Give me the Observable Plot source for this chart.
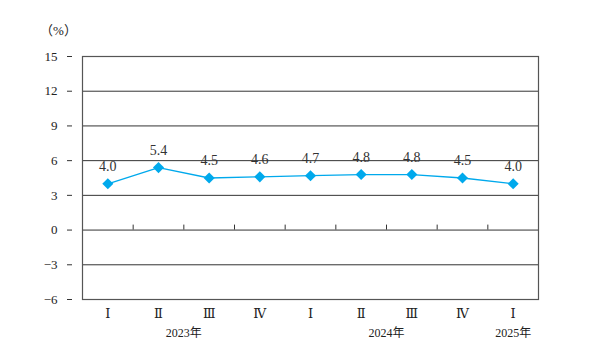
<!DOCTYPE html>
<html><head><meta charset="utf-8">
<script src="https://cdn.jsdelivr.net/npm/d3@7"></script>
<script src="https://cdn.jsdelivr.net/npm/@observablehq/plot@0.6"></script>
<style>
html,body{margin:0;padding:0;background:#fff;}
g[aria-label="values"] text{letter-spacing:1.5px;}
</style></head><body>
<div id="chart"></div>
<script>
const quarters = ["2023-1","2023-2","2023-3","2023-4","2024-1","2024-2","2024-3","2024-4","2025-1"];
const quarterLabels = ["Ⅰ","Ⅱ","Ⅲ","Ⅳ","Ⅰ","Ⅱ","Ⅲ","Ⅳ","Ⅰ"];
const values = [4.0, 5.4, 4.5, 4.6, 4.7, 4.8, 4.8, 4.5, 4.0];
const yTicks = [-6, -3, 0, 3, 6, 9, 12, 15];
const yearLabelsBetween = ["2023年", "2024年"];
const yearAnchorsBetween = ["2023-2", "2024-2"];
const yearLabelsOn = ["2025年"];
const yearAnchorsOn = ["2025-1"];

const data = quarters.map((q, i) => ({q, v: values[i]}));
const yearsBetween = yearLabelsBetween.map((t, i) => ({t, q: yearAnchorsBetween[i]}));
const yearsOn = yearLabelsOn.map((t, i) => ({t, q: yearAnchorsOn[i]}));
const labelOf = new Map(quarters.map((q, i) => [q, quarterLabels[i]]));

const W = 598, H = 354, ML = 82, MR = 60, MT = 56, MB = 55;
const bw = (W - ML - MR) / quarters.length;
const blue = "#00a9ec";
const font = '"Liberation Serif","DejaVu Serif","Noto Sans CJK SC",serif';

const chart = Plot.plot({
  width: W, height: H,
  marginLeft: ML, marginRight: MR, marginTop: MT, marginBottom: MB,
  style: {fontSize: "13px", fontFamily: font, color: "#222", background: "#fff"},
  x: {type: "band", domain: quarters, padding: 0, round: false},
  y: {domain: [-6, 15]},
  marks: [
    Plot.ruleY(yTicks, {stroke: "#333", strokeWidth: 1}),
    Plot.ruleX(quarters, {x: d => d, y1: 0, y2: 0.43, dx: bw / 2, stroke: "#333"}),
    Plot.frame({stroke: "#555", strokeWidth: 1.2}),
    Plot.axisY({ticks: yTicks, tickSize: 5, dx: -10, tickPadding: 10, label: null, stroke: "#333", fontSize: 13}),
    Plot.axisX({tickSize: 0, tickPadding: 9, label: null, tickFormat: d => labelOf.get(d), fontSize: 13}),
    Plot.line(data, {x: "q", y: "v", stroke: blue, strokeWidth: 1.3}),
    Plot.dot(data, {x: "q", y: "v", symbol: "diamond2", r: 5, fill: blue, stroke: "none"}),
    Plot.text(data, {x: "q", y: "v", text: d => d.v.toFixed(1), dy: -17, fill: "#333", fontSize: 14, ariaLabel: "values"}),
    Plot.text(yearsBetween, {x: "q", y: -6, text: "t", dx: bw / 2, dy: 34, fontSize: 12, fill: "#222"}),
    Plot.text(yearsOn, {x: "q", y: -6, text: "t", dy: 34, fontSize: 12, fill: "#222"}),
    Plot.text(["（%）"], {frameAnchor: "top-left", dx: -24, dy: -26, textAnchor: "middle", lineAnchor: "middle", fontSize: 13, fill: "#222"})
  ]
});
document.getElementById("chart").appendChild(chart);
</script>
</body></html>
